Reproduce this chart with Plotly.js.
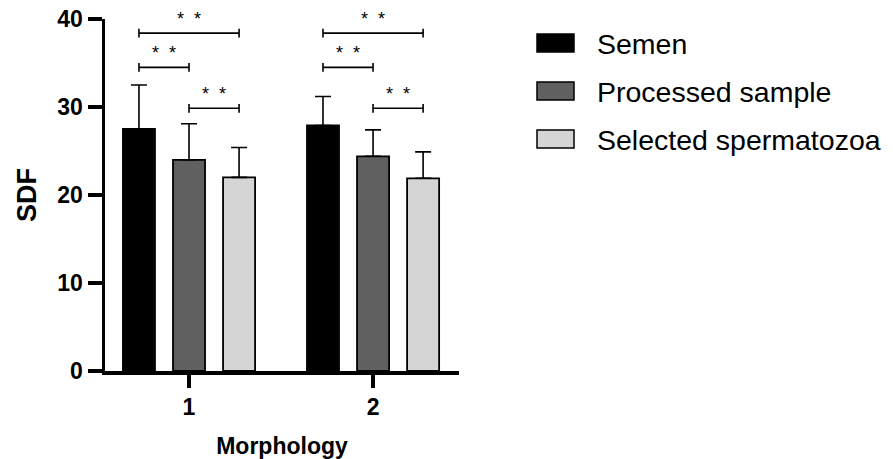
<!DOCTYPE html>
<html>
<head>
<meta charset="utf-8">
<script src="https://cdn.plot.ly/plotly-3.0.1.min.js"></script>
<style>html,body{margin:0;padding:0;background:#fff;}#chart{width:893px;height:459px;}</style>
</head>
<body>
<div id="chart"></div>
<script>
// ---- data ----
const categories = ['1', '2'];
const seriesNames = ['Semen', 'Processed sample', 'Selected spermatozoa'];
const semenMean = [27.5, 27.9];
const semenSD = [5.0, 3.3];
const processedMean = [24.0, 24.4];
const processedSD = [4.1, 3.0];
const selectedMean = [22.0, 21.9];
const selectedSD = [3.4, 3.0];
const seriesColors = ['#000000', '#606060', '#d5d5d5'];
// significance comparisons (bar index pairs within each group)
const compFrom = [0, 0, 1];
const compTo = [2, 1, 2];
const compLabel = ['* *', '* *', '* *'];
const yTicks = [0, 10, 20, 30, 40];

// ---- layout geometry ----
const W = 893, H = 459;
const L = 105, R = 459, T = 19, B = 371;
const pw = R - L, ph = B - T;
const xRange = [-0.4565, 1.467];
const slot = 0.272;               // spacing between bar centres in a group
const bracketY = [38.4, 34.5, 29.85];
const tickHalf = 0.5;

const means = [semenMean, processedMean, selectedMean];
const sds = [semenSD, processedSD, selectedSD];

const traces = seriesNames.map((name, i) => ({
  type: 'bar',
  name: name,
  x: categories,
  y: means[i],
  marker: {color: seriesColors[i], line: {color: '#000', width: 1.8}},
  error_y: {type: 'data', symmetric: false, array: sds[i], arrayminus: sds[i].map(() => 0),
            color: '#000', thickness: 1.6, width: 8},
  showlegend: false,
  hoverinfo: 'skip'
}));

const shapes = [];
const annotations = [];
categories.forEach((c, ci) => {
  compFrom.forEach((a, k) => {
    const x0 = ci + (a - 1) * slot;
    const x1 = ci + (compTo[k] - 1) * slot;
    const y = bracketY[k];
    const ln = {color: '#000', width: 1.6};
    shapes.push({type: 'line', xref: 'x', yref: 'y', x0: x0, x1: x1, y0: y, y1: y, line: ln});
    shapes.push({type: 'line', xref: 'x', yref: 'y', x0: x0, x1: x0, y0: y - tickHalf, y1: y + tickHalf, line: ln});
    shapes.push({type: 'line', xref: 'x', yref: 'y', x0: x1, x1: x1, y0: y - tickHalf, y1: y + tickHalf, line: ln});
    annotations.push({xref: 'x', yref: 'y', x: (x0 + x1) / 2, y: y + 1.6,
      text: compLabel[k].replace(' ', '\u00a0\u00a0'), showarrow: false,
      font: {family: 'Liberation Sans, Arial', size: 18, color: '#000'}, xanchor: 'center', yanchor: 'middle'});
  });
});

// custom legend
const px2x = p => (p - L) / pw;
const px2y = p => (B - p) / ph;
const legendRows = [43, 91, 139];
seriesNames.forEach((name, i) => {
  const yc = legendRows[i];
  shapes.push({type: 'rect', xref: 'paper', yref: 'paper',
    x0: px2x(537), x1: px2x(574), y0: px2y(yc + 9), y1: px2y(yc - 9),
    fillcolor: seriesColors[i], line: {color: '#000', width: 1.5}});
  annotations.push({xref: 'paper', yref: 'paper', x: px2x(595), y: px2y(yc + 1),
    text: name, showarrow: false, xanchor: 'left', yanchor: 'middle',
    font: {family: 'Liberation Sans, Arial', size: 28.5, color: '#000'}});
});

const layout = {
  width: W, height: H,
  margin: {l: L, r: W - R, t: T, b: H - B, pad: 0},
  paper_bgcolor: '#fff', plot_bgcolor: '#fff',
  barmode: 'group', bargap: 0.184, bargroupgap: 0.36,
  font: {family: 'Liberation Sans, Arial', color: '#000'},
  xaxis: {
    type: 'category', range: xRange, showgrid: false, zeroline: false,
    showline: true, linecolor: '#000', linewidth: 3.5,
    ticks: 'outside', ticklen: 13, tickwidth: 3.5, tickcolor: '#000',
    tickfont: {size: 23, weight: 'bold', color: '#000'},
    title: {text: 'Morphology', font: {size: 23, weight: 'bold', color: '#000'}, standoff: 28}
  },
  yaxis: {
    range: [0, 40], tickvals: yTicks, showgrid: false, zeroline: false,
    showline: true, linecolor: '#000', linewidth: 3.5,
    ticks: 'outside', ticklen: 14, tickwidth: 3.5, tickcolor: '#000',
    tickfont: {size: 23, weight: 'bold', color: '#000'},
    title: {text: 'SDF', font: {size: 27, weight: 'bold', color: '#000'}, standoff: 14}
  },
  shapes: shapes,
  annotations: annotations,
  showlegend: false
};

Plotly.newPlot('chart', traces, layout, {displayModeBar: false, staticPlot: true});
</script>
</body>
</html>
